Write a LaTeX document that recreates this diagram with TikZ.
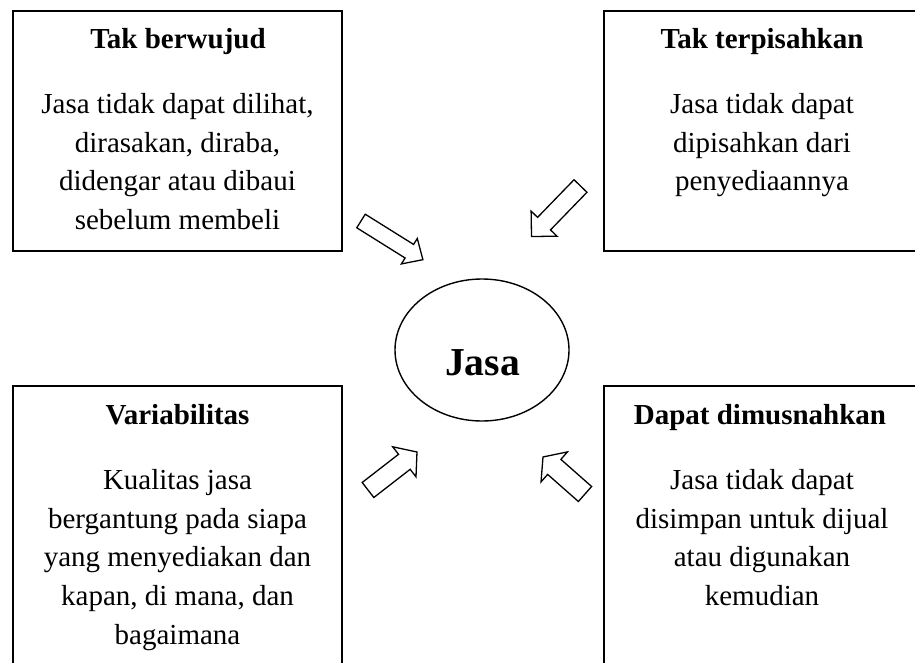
\documentclass[tikz,border=0pt]{standalone}
\usepackage{fontspec}
\setmainfont{Liberation Serif}

\tikzset{
  titletxt/.style={anchor=base, inner sep=0pt, font=\fontsize{14.5pt}{17pt}\selectfont\bfseries},
  bodytxt/.style={anchor=base, inner sep=0pt, font=\fontsize{14.5pt}{17pt}\selectfont},
  boxline/.style={line width=0.9pt},
  arrowline/.style={draw=black, line width=0.65pt, fill=white, line join=miter},
}

% fat arrow: tail x, tail y, angle, length, shaft width, head width, head length
\newcommand{\fatarrow}[7]{%
  \begin{scope}[shift={(#1,#2)}, rotate=#3]
    \draw[arrowline] (0,{-#5/2}) -- ({#4-#7},{-#5/2}) -- ({#4-#7},{-#6/2}) -- (#4,0)
      -- ({#4-#7},{#6/2}) -- ({#4-#7},{#5/2}) -- (0,{#5/2}) -- cycle;
  \end{scope}}

\begin{document}
\begin{tikzpicture}[x=0.5pt,y=-0.5pt]
\useasboundingbox (0,0) rectangle (915,663);
\clip (0,0) rectangle (915,663);

%draw the four boxes
\draw[boxline] (13,11) rectangle (342,251);
\draw[boxline] (604,11) rectangle (920,251);
\draw[boxline] (13,386) rectangle (342,690);
\draw[boxline] (604,386) rectangle (920,690);

%titles
\node[titletxt] (tb) at (178,49) {Tak berwujud};
\node[titletxt] (tt) at (762,49) {Tak terpisahkan};
\node[titletxt] (va) at (177.5,424) {Variabilitas};
\node[titletxt] (dd) at (760,424) {Dapat dimusnahkan};

%body lines
\foreach \txt [count=\i] in {{Jasa tidak dapat dilihat,},{dirasakan, diraba,},{didengar atau dibaui},{sebelum membeli}}
  \node[bodytxt] (tb\i) at (177.5,{113.5+38.7*(\i-1)}) {\txt};
\foreach \txt [count=\i] in {{Jasa tidak dapat},{dipisahkan dari},{penyediaannya}}
  \node[bodytxt] (tt\i) at (762,{113.5+38.7*(\i-1)}) {\txt};
\foreach \txt [count=\i] in {{Kualitas jasa},{bergantung pada siapa},{yang menyediakan dan},{kapan, di mana, dan},{bagaimana}}
  \node[bodytxt] (va\i) at (177.5,{489.5+38.7*(\i-1)}) {\txt};
\foreach \txt [count=\i] in {{Jasa tidak dapat},{disimpan untuk dijual},{atau digunakan},{kemudian}}
  \node[bodytxt] (dd\i) at (762,{489.5+38.7*(\i-1)}) {\txt};

%centre
\draw[line width=0.7pt] (482,350) ellipse [x radius=87, y radius=71];
\node[anchor=base, inner sep=0pt, font=\fontsize{19.8pt}{22pt}\selectfont\bfseries] (jasa) at (482.5,375) {Jasa};

%arrows
\fatarrow{361}{221}{-32}{73}{16}{30}{16}
\fatarrow{580.5}{186}{-134.1}{70.4}{18}{36}{18}
\fatarrow{368}{490}{37.8}{62}{19}{38}{16}
\fatarrow{585}{494}{138.6}{56}{20}{40}{15}
\end{tikzpicture}
\end{document}
